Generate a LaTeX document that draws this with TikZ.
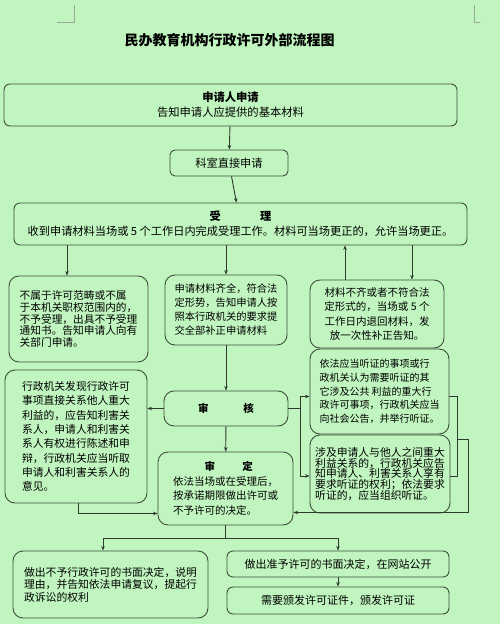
\documentclass[tikz,border=0pt]{standalone}
\usepackage{fontspec}
\setmainfont{Noto Sans CJK SC}
\usepackage{tikz}
\usetikzlibrary{arrows.meta, positioning, calc}
\definecolor{paper}{HTML}{C0F5BF}
\definecolor{edge}{HTML}{3E4F3E}
\definecolor{wire}{HTML}{2F3A2F}
\definecolor{cropmark}{HTML}{9AA89A}
\newcommand{\fsz}[2]{\fontsize{#1}{#2}\selectfont}

\begin{document}
\begin{tikzpicture}[x=1pt, y=-1pt,
  card/.style={draw=edge, line width=0.9pt, rounded corners=10pt,
               inner sep=0pt, align=left},
  flow/.style={draw=wire, line width=0.9pt,
               -{Stealth[length=4.5pt,width=3.6pt]}},
  link/.style={draw=wire, line width=0.9pt}]
  % page: 500 x 624 px, one px per pt, y runs down
  \fill[paper] (0,0) rectangle (500,624);
  \useasboundingbox (0,0) rectangle (500,624);

  % crop marks
  \draw[cropmark, line width=0.8pt] (57,22) -- (74,22) -- (74,5);
  \draw[cropmark, line width=0.8pt] (480,22) -- (474,22) -- (474,5);

  % title
  \node[font=\fsz{14}{16}\bfseries] (title) at (229.5,40)
    {民办教育机构行政许可外部流程图};

  % top column
  \node[card, rounded corners=6pt, align=center, minimum width=453pt,
        minimum height=42pt, font=\fsz{11.3}{15}] (apply) at (230.5,105)
    {\textbf{申请人申请}\\告知申请人应提供的基本材料};
  \node[card, rounded corners=5pt, minimum width=118pt, minimum height=26pt,
        font=\fsz{11.2}{13}] (dept) at (229,163) {科室直接申请};
  \node[card, rounded corners=6pt, align=center, minimum width=453pt,
        minimum height=42pt, font=\fsz{11.2}{15}] (accept) at (240.5,224)
    {\textbf{受\hspace{3.5em}理}\\收到申请材料当场或 5 个工作日内完成受理工作。材料可当场更正的，允许当场更正。};

  % three outcomes of acceptance
  \node[card, minimum width=139pt, minimum height=86pt,
        font=\fsz{10.7}{11.6}] (reject) at (78.5,319)
    {不属于许可范畴或不属\\于本机关职权范围内的，\\不予受理，出具不予受理\\通知书。告知申请人向有\\关部门申请。};
  \node[card, minimum width=122pt, minimum height=70pt,
        font=\fsz{10.3}{14}] (complete) at (226,310)
    {申请材料齐全，符合法\\定形势，告知申请人按\\照本行政机关的要求提\\交全部补正申请材料};
  \node[card, align=center, minimum width=134pt, minimum height=68pt,
        font=\fsz{10.5}{14.3}] (incomplete) at (377,314)
    {材料不齐或者不符合法\\定形式的，当场或 5 个\\工作日内退回材料，发\\放一次性补正告知。};

  % review and decision
  \node[card, align=center, minimum width=124pt, minimum height=35pt,
        font=\fsz{10.5}{13}\bfseries] (review) at (226,408.5)
    {审\hspace{3.3em}核};
  \node[card, minimum width=135pt, minimum height=73pt,
        font=\fsz{10.5}{14.5}] (decide) at (225.5,488.5)
    {\hspace*{3em}\textbf{审\hspace{2.6em}定}\\依法当场或在受理后，\\按承诺期限做出许可或\\不予许可的决定。};

  % side boxes
  \node[card, minimum width=142pt, minimum height=133pt,
        font=\fsz{10.8}{14.3}] (interest) at (76,436.5)
    {行政机关发现行政许可\\事项直接关系他人重大\\利益的，应告知利害关\\系人，申请人和利害关\\系人有权进行陈述和申\\辩，行政机关应当听取\\申请人和利害关系人的\\意见。};
  \node[card, minimum width=139pt, minimum height=85pt,
        font=\fsz{10}{13.7}] (hearing) at (379.5,391.5)
    {依法应当听证的事项或行\\政机关认为需要听证的其\\它涉及公共 利益的重大行\\政许可事项，行政机关应当\\向社会公告，并举行听证。};
  \node[card, minimum width=140pt, minimum height=78pt,
        font=\fsz{10.8}{10.9}] (notify) at (380,474)
    {涉及申请人与他人之间重大\\利益关系的，行政机关应告\\知申请人、利害关系人享有\\要求听证的权利；依法要求\\听证的，应当组织听证。};

  % results
  \node[card, minimum width=195pt, minimum height=67pt,
        font=\fsz{10.8}{12.6}] (deny) at (110.5,584.5)
    {做出不予行政许可的书面决定，说明\\理由，并告知依法申请复议，提起行\\政诉讼的权利};
  \node[card, rounded corners=6pt, minimum width=222pt, minimum height=26pt,
        font=\fsz{11}{13}] (grant) at (338,564)
    {做出准予许可的书面决定，在网站公开};
  \node[card, rounded corners=6pt, minimum width=222pt, minimum height=27pt,
        font=\fsz{11}{13}] (license) at (338,600.5)
    {需要颁发许可证件，颁发许可证};

  % connectors
  \draw[flow] (apply) -- (dept);
  \draw[flow] (dept) -- (accept);
  \draw[flow] (67,0 |- accept.south) -- (67,0 |- reject.north);
  \draw[flow] (complete.north |- accept.south) -- (complete.north);
  \draw[flow] (345,0 |- incomplete.north) -- (345,0 |- accept.south);
  \draw[flow] (412,0 |- accept.south) -- (412,0 |- incomplete.north);
  \draw[flow] (complete) -- (review);
  \draw[flow] (review) -- (decide);
  \draw[flow] (review.west) -- (review.west -| interest.east);

  \draw[link] (review.east) -- (300,0 |- review.east) coordinate (fork);
  \draw[flow] (fork) |- ([yshift=-5pt]hearing.west);
  \draw[flow] (fork) |- ([yshift=-2pt]notify.west);

  \draw[link] ([yshift=-5pt]hearing.east) -- ++(8,0) coordinate (hr)
    |- ([yshift=-2pt]notify.east);
  \coordinate (join) at ($(hr)!0.55!(hr |- notify.east)$);
  \draw[flow] (join) -- ++(11,0) |- ([yshift=-24pt]decide.east);

  \draw[flow] ([xshift=2pt]interest.south) |- ([yshift=-25pt]decide.west);

  \draw[link] (decide.south) -- ++(0,13) coordinate (split);
  \draw[flow] (split) -| ([xshift=-7.5pt]deny.north);
  \draw[flow] (split) -| (grant.north);
  \draw[flow] (grant) -- (license);
\end{tikzpicture}
\end{document}
